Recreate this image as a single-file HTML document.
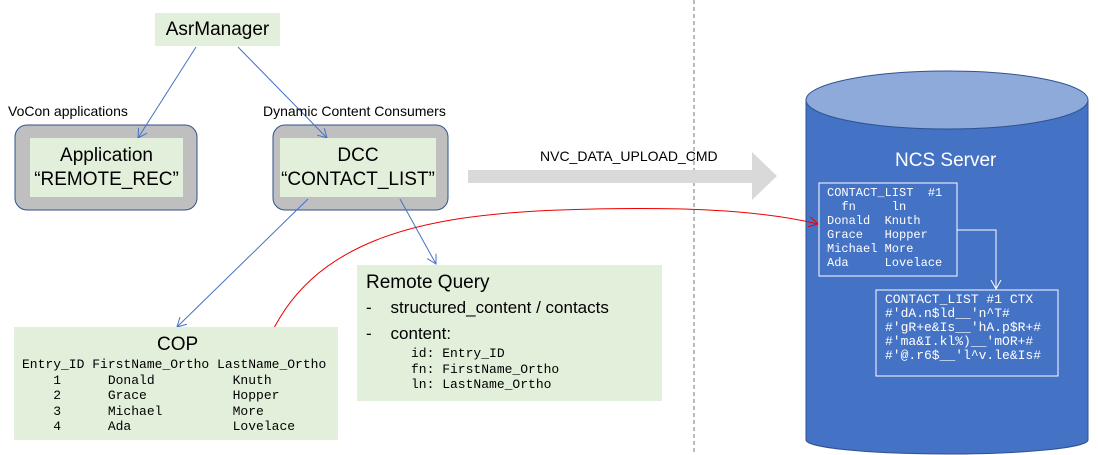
<!DOCTYPE html>
<html><head><style>
body{margin:0;width:1098px;height:455px;background:#fff;position:relative;overflow:hidden;font-family:"Liberation Sans",sans-serif}
.a{position:absolute}
.g{background:#e2efda}
.mono{font-family:"Liberation Mono",monospace;font-size:13px;white-space:pre;line-height:15.5px}
</style></head><body>
<svg class="a" style="left:0;top:0" width="1098" height="455">
<defs>
<marker id="ab" markerWidth="12" markerHeight="12" refX="10" refY="6" orient="auto" markerUnits="userSpaceOnUse"><path d="M1,1 L10,6 L1,11" fill="none" stroke="#4472c4" stroke-width="1"/></marker>
<marker id="ar" markerWidth="12" markerHeight="12" refX="10" refY="6" orient="auto" markerUnits="userSpaceOnUse"><path d="M1,1 L10,6 L1,11" fill="none" stroke="#e00" stroke-width="1"/></marker>
<marker id="aw" markerWidth="12" markerHeight="12" refX="10" refY="6" orient="auto" markerUnits="userSpaceOnUse"><path d="M1,1 L10,6 L1,11" fill="none" stroke="#fff" stroke-width="1"/></marker>
</defs>
<line x1="694" y1="0" x2="694" y2="455" stroke="#777" stroke-dasharray="4,3"/>
<path d="M806,100 L806,440 A141,14 0 0 0 1088,440 L1088,100" fill="#4472c4" stroke="#2f528f"/>
<ellipse cx="947" cy="100" rx="141" ry="29" fill="#8eaadb" stroke="#2f528f"/>
<rect x="15" y="125" width="182" height="85" rx="12" fill="#bfbfbf" stroke="#2f528f"/>
<rect x="273" y="125" width="175" height="85" rx="12" fill="#bfbfbf" stroke="#2f528f"/>
<polygon points="468,170 752,170 752,152 777,176 752,200 752,183 468,183" fill="#d9d9d9"/>
<line x1="196" y1="47" x2="138" y2="138" stroke="#4472c4" marker-end="url(#ab)"/>
<line x1="238" y1="47" x2="327" y2="138" stroke="#4472c4" marker-end="url(#ab)"/>
<line x1="308" y1="199" x2="177" y2="327" stroke="#4472c4" marker-end="url(#ab)"/>
<line x1="400" y1="199" x2="436" y2="264" stroke="#4472c4" marker-end="url(#ab)"/>
<path d="M267,343 C310,240 420,215 560,210 C680,206 760,210 818,224" fill="none" stroke="#e00" marker-end="url(#ar)"/>
<rect x="819" y="183" width="138" height="93" fill="none" stroke="#fff"/>
<rect x="876" y="290" width="182" height="86" fill="none" stroke="#fff"/>
<path d="M957,230 L996,230 L996,289" fill="none" stroke="#fff" marker-end="url(#aw)"/>
</svg>
<div class="a g" style="left:155px;top:13px;width:125px;height:33px;font-size:19px;text-align:center;line-height:33px">AsrManager</div>
<div class="a" style="left:8px;top:103px;font-size:14px">VoCon applications</div>
<div class="a" style="left:263px;top:103px;font-size:14px">Dynamic Content Consumers</div>
<div class="a g" style="left:30px;top:138px;width:153px;height:59px;font-size:19px;text-align:center;line-height:24px;padding-top:6px;box-sizing:border-box">Application<br>“REMOTE_REC”</div>
<div class="a g" style="left:280px;top:138px;width:156px;height:59px;font-size:19px;text-align:center;line-height:24px;padding-top:6px;box-sizing:border-box">DCC<br>“CONTACT_LIST”</div>
<div class="a" style="left:540px;top:148px;font-size:14px">NVC_DATA_UPLOAD_CMD</div>
<div class="a" style="left:895px;top:150px;font-size:19px;color:#fff">NCS Server</div>
<div class="a g" style="left:357px;top:265px;width:305px;height:136px"></div>
<div class="a" style="left:366px;top:272px;font-size:19px">Remote Query</div>
<div class="a" style="left:366px;top:298px;font-size:17px;white-space:pre">-    structured_content / contacts</div>
<div class="a" style="left:366px;top:324px;font-size:17px;white-space:pre">-    content:</div>
<div class="a mono" style="left:411px;top:346px">id: Entry_ID
fn: FirstName_Ortho
ln: LastName_Ortho</div>
<div class="a g" style="left:14px;top:327px;width:324px;height:113px"></div>
<div class="a" style="left:157px;top:334px;font-size:19px">COP</div>
<div class="a mono" style="left:22px;top:357px">Entry_ID FirstName_Ortho LastName_Ortho
    1      Donald          Knuth
    2      Grace           Hopper
    3      Michael         More
    4      Ada             Lovelace</div>
<div class="a mono" style="left:827px;top:186px;color:#fff;font-size:12px;line-height:14px">CONTACT_LIST  #1
  fn     ln
Donald  Knuth
Grace   Hopper
Michael More
Ada     Lovelace</div>
<div class="a mono" style="left:885px;top:293px;color:#fff;font-size:13px;line-height:14px">CONTACT_LIST #1 CTX
#'dA.n$ld__'n^T#
#'gR+e&amp;Is__'hA.p$R+#
#'ma&amp;I.kl%)__'mOR+#
#'@.r6$__'l^v.le&amp;Is#</div>
</body></html>
